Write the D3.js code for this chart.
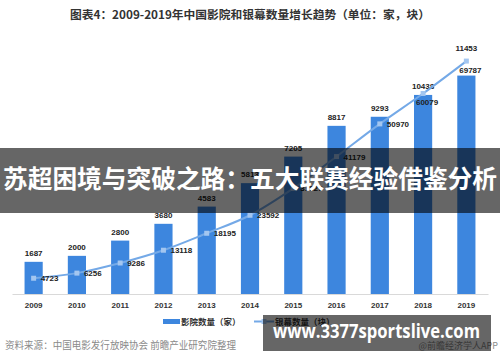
<!DOCTYPE html>
<html><head><meta charset="utf-8">
<script src="https://cdn.jsdelivr.net/npm/d3@7/dist/d3.min.js"></script>
<style>body{margin:0;background:#fff}svg{display:block}</style>
</head><body>
<svg id="c" width="500" height="362"></svg>
<script>
const years = ["2009","2010","2011","2012","2013","2014","2015","2016","2017","2018","2019"];
const cinemas = [1687,2000,2800,3680,4583,5813,7205,8817,9293,10438,11453];
const screens = [4723,6256,9286,13118,18195,23592,31627,41179,50970,60079,69787];
const legendNames = ["影院数量（家）","银幕数量（块）"];
const chartTitle = "图表4：2009-2019年中国影院和银幕数量增长趋势（单位：家，块）";
const sourceText = "资料来源：中国电影发行放映协会 前瞻产业研究院整理";
const creditText = "@前瞻经济学人APP";
const bannerText = "苏超困境与突破之路：五大联赛经验借鉴分析";
const siteText = "www.3377sportslive.com";

const svg = d3.select("#c");
const barColor = "#3d86de", lineColor = "#74a9e7", markColor = "#a3c6f0";
const numFont = "'Liberation Sans', Arial, sans-serif";
const cjk = "'Noto Sans CJK SC', 'Noto Sans', sans-serif";

const x = d3.scaleBand().domain(years).range([12,488]).paddingInner(0.58).paddingOuter(0.29);
const yBar = d3.scaleLinear().domain([0,14000]).range([294,27]);
const yLine = d3.scaleLinear().domain([0,80000]).range([294,27]);
const cx = d=>x(d)+x.bandwidth()/2;

// title
svg.append("text").attr("x",250).attr("y",19).attr("text-anchor","middle")
  .attr("font-family",cjk).attr("font-weight","bold").attr("font-size",11.5)
  .attr("fill","#333").attr("textLength",360).attr("lengthAdjust","spacingAndGlyphs")
  .text(chartTitle);

// axis
const ax = svg.append("g").attr("transform","translate(0,294)")
  .call(d3.axisBottom(x).tickSize(0).tickPadding(8));
ax.select(".domain").attr("stroke","#d9d9d9");
ax.selectAll("text").attr("font-family",numFont).attr("font-weight","bold")
  .attr("font-size",8).attr("fill","#333");

// bars
svg.selectAll("rect.bar").data(years).join("rect").attr("class","bar")
  .attr("x",d=>x(d)).attr("width",x.bandwidth())
  .attr("y",(d,i)=>yBar(cinemas[i])).attr("height",(d,i)=>yBar(0)-yBar(cinemas[i]))
  .attr("fill",barColor);

svg.selectAll("text.bl").data(years).join("text").attr("class","bl")
  .attr("x",d=>cx(d))
  .attr("y",(d,i)=>{
    const top = yBar(cinemas[i]), pt = yLine(screens[i]);
    return pt < top - 3 ? pt - 10 : top - 6;
  })
  .attr("text-anchor","middle").attr("font-family",numFont).attr("font-weight","bold")
  .attr("font-size",8).attr("fill","#222").text((d,i)=>cinemas[i]);

// line
svg.append("path").datum(years)
  .attr("d",d3.line().x(cx).y((d,i)=>yLine(screens[i])).curve(d3.curveMonotoneX))
  .attr("fill","none").attr("stroke",lineColor).attr("stroke-width",2);
svg.selectAll("rect.mk").data(years).join("rect").attr("class","mk")
  .attr("x",d=>cx(d)-2.5).attr("y",(d,i)=>yLine(screens[i])-2.5)
  .attr("width",5).attr("height",5).attr("fill",markColor);
svg.selectAll("text.ll").data(years).join("text").attr("class","ll")
  .attr("x",(d,i)=> i>=9 ? cx(d)+4 : cx(d)+7)
  .attr("y",(d,i)=>yLine(screens[i]) + (i>=9 ? 12 : 3))
  .attr("text-anchor",(d,i)=> i>=9 ? "middle":"start")
  .attr("font-family",numFont).attr("font-weight","bold")
  .attr("font-size",8).attr("fill","#222").text((d,i)=>screens[i]);

// legend
svg.append("rect").attr("x",163).attr("y",319).attr("width",17).attr("height",5).attr("fill",barColor);
svg.append("text").attr("x",181).attr("y",324.5).attr("font-family",cjk).attr("font-weight","bold")
  .attr("font-size",8.5).attr("fill","#333").text(legendNames[0]);
svg.append("line").attr("x1",254).attr("x2",274).attr("y1",321.5).attr("y2",321.5)
  .attr("stroke",lineColor).attr("stroke-width",2);
svg.append("rect").attr("x",261.5).attr("y",319).attr("width",5).attr("height",5).attr("fill",markColor);
svg.append("text").attr("x",275).attr("y",324.5).attr("font-family",cjk).attr("font-weight","bold")
  .attr("font-size",8.5).attr("fill","#333").text(legendNames[1]);

// source
svg.append("text").attr("x",5).attr("y",349).attr("font-family",cjk)
  .attr("font-size",10).attr("fill","#8a8a8a").attr("textLength",231)
  .attr("lengthAdjust","spacingAndGlyphs").text(sourceText);
svg.append("text").attr("x",498).attr("y",349).attr("text-anchor","end").attr("font-family",cjk)
  .attr("font-size",9).attr("fill","#8a8a8a").text(creditText);

// overlays
svg.append("rect").attr("x",0).attr("y",148).attr("width",500).attr("height",65).attr("fill","rgba(0,0,0,0.6)");
svg.append("text").attr("x",250).attr("y",188).attr("text-anchor","middle")
  .attr("font-family",cjk).attr("font-weight","bold").attr("font-size",25).attr("fill","#fff")
  .attr("textLength",494).attr("lengthAdjust","spacingAndGlyphs").text(bannerText);

svg.append("rect").attr("x",263).attr("y",315).attr("width",228).attr("height",36).attr("fill","rgba(0,0,0,0.6)");
svg.append("text").attr("x",273).attr("y",337.5)
  .attr("font-family","'Open Sans','DejaVu Sans',sans-serif").attr("font-weight","bold").attr("font-size",20)
  .attr("fill","#fff").attr("textLength",207).attr("lengthAdjust","spacingAndGlyphs").text(siteText);
</script>
</body></html>
